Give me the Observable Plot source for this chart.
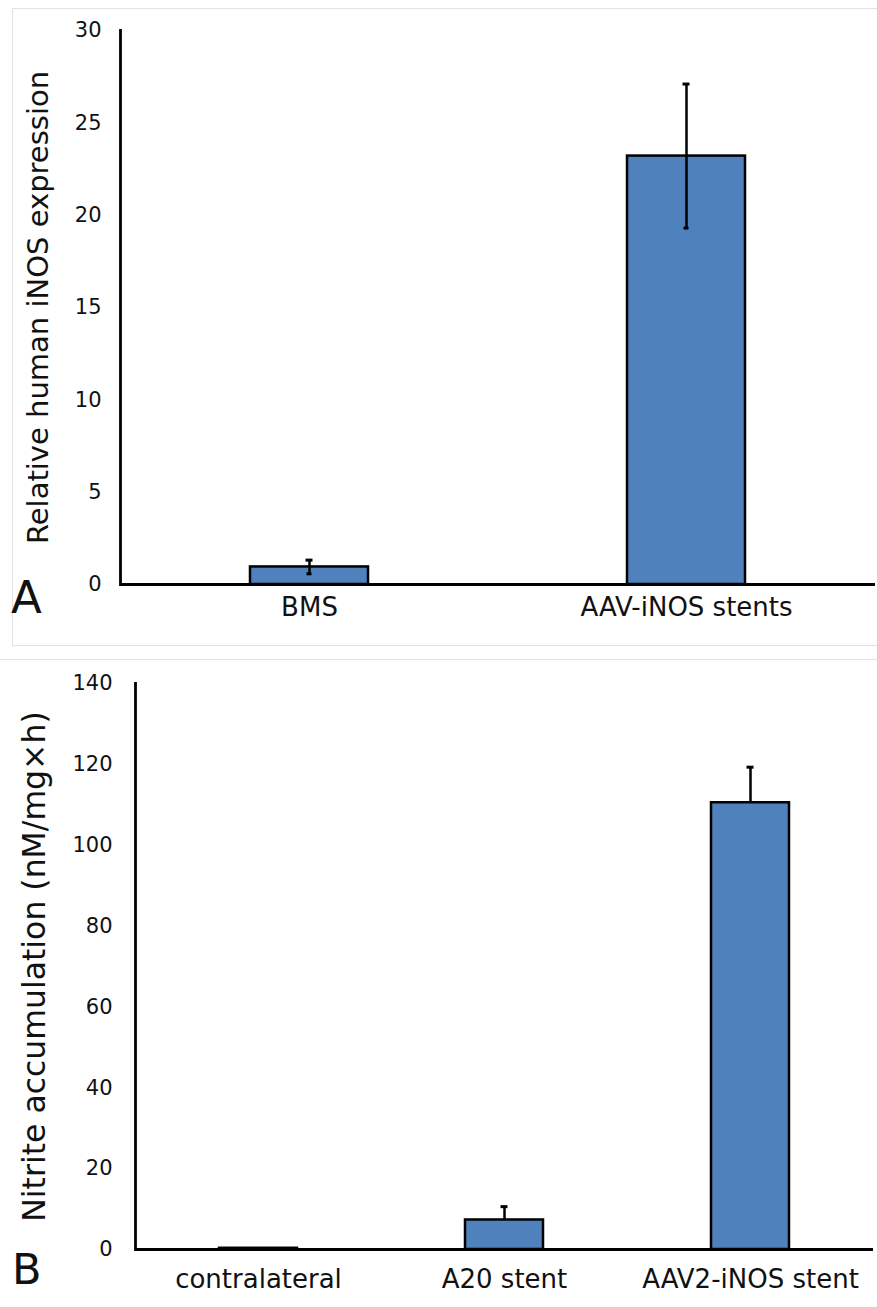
<!DOCTYPE html>
<html>
<head>
<meta charset="utf-8">
<script src="https://cdn.jsdelivr.net/npm/d3@7"></script>
<script src="https://cdn.jsdelivr.net/npm/@observablehq/plot@0.6"></script>
<style>
  html, body { margin: 0; padding: 0; background: #fff; }
  #wrap { position: relative; width: 877px; height: 1307px; overflow: hidden; font-family: "DejaVu Sans", sans-serif; }
  .panel { position: absolute; }
  #boxA { position: absolute; left: 12px; top: 8px; width: 880px; height: 638px; border: 1.5px solid #e2e2e2; box-sizing: border-box; }
  #boxB { position: absolute; left: -2px; top: 659px; width: 884px; height: 700px; border: 1.5px solid #e2e2e2; box-sizing: border-box; }
  #letters { position: absolute; left: 0; top: 0; pointer-events: none; }
</style>
</head>
<body>
<div id="wrap">
  <div id="boxA"></div>
  <div id="boxB"></div>
  <div id="panelA" class="panel" style="left:0;top:0"></div>
  <div id="panelB" class="panel" style="left:0;top:650px"></div>
  <svg id="letters" width="877" height="1307">
    <text x="11" y="613" font-family="DejaVu Sans" font-size="45" fill="#111">A</text>
    <text x="12" y="1284" font-family="DejaVu Sans" font-size="43" fill="#111">B</text>
  </svg>
</div>
<script>
// ---- Panel A data ----
const catsA = ["BMS", "AAV-iNOS stents"];
const valsA = [0.95, 23.2];
const errsA = [0.37, 3.9];
const ticksA = [0, 5, 10, 15, 20, 25, 30];
const yLabelA = "Relative human iNOS expression";

// ---- Panel B data ----
const catsB = ["contralateral", "A20 stent", "AAV2-iNOS stent"];
const valsB = [0.3, 7.3, 110.5];
const errsB = [0, 3.3, 8.8];
const ticksB = [0, 20, 40, 60, 80, 100, 120, 140];
const yLabelB = "Nitrite accumulation (nM/mg\u00d7h)";

const dataA = catsA.map((c, i) => ({cat: c, value: valsA[i], err: errsA[i]}));
const dataB = catsB.map((c, i) => ({cat: c, value: valsB[i], err: errsB[i]}));
const errB = dataB.filter(d => d.err > 0);

const barFill = "#4f81bd";
const font = "DejaVu Sans";

const chartA = Plot.plot({
  width: 877, height: 650,
  marginLeft: 120, marginRight: 2, marginTop: 30, marginBottom: 66,
  style: {fontFamily: font, color: "#111", background: "transparent"},
  x: {domain: catsA, paddingInner: 0.687, paddingOuter: 0.344, label: null},
  y: {domain: [0, 30], label: null},
  marks: [
    Plot.barY(dataA, {x: "cat", y: "value", fill: barFill, stroke: "#000", strokeWidth: 2.5}),
    Plot.ruleX(dataA, {x: "cat", y1: d => d.value - d.err, y2: d => d.value + d.err, stroke: "#000", strokeWidth: 2.5}),
    Plot.tickY(dataA, {x: "cat", y: d => d.value + d.err, insetLeft: 55.5, insetRight: 55.5, stroke: "#000", strokeWidth: 3}),
    Plot.tickY(dataA, {x: "cat", y: d => d.value - d.err, insetLeft: 56.5, insetRight: 56.5, stroke: "#000", strokeWidth: 3}),
    Plot.ruleY([0], {stroke: "#000", strokeWidth: 2.8}),
    Plot.frame({anchor: "left", stroke: "#000", strokeWidth: 2.8}),
    Plot.axisY({ticks: ticksA, tickSize: 0, tickPadding: 19, fontSize: 21, label: null}),
    Plot.axisX({tickSize: 0, tickPadding: 13, fontSize: 26, label: null}),
    Plot.text([yLabelA], {frameAnchor: "left", textAnchor: "middle", rotate: -90, dx: -82, fontSize: 29, fill: "#111"})
  ]
});
document.getElementById("panelA").appendChild(chartA);

const chartB = Plot.plot({
  width: 877, height: 657,
  marginLeft: 135, marginRight: 4, marginTop: 33, marginBottom: 58,
  style: {fontFamily: font, color: "#111", background: "transparent"},
  x: {domain: catsB, paddingInner: 0.683, paddingOuter: 0.341, label: null},
  y: {domain: [0, 140], label: null},
  marks: [
    Plot.ruleX(errB, {x: "cat", y1: d => d.value - d.err, y2: d => d.value + d.err, stroke: "#000", strokeWidth: 2.5}),
    Plot.tickY(errB, {x: "cat", y: d => d.value + d.err, insetLeft: 35.5, insetRight: 35.5, stroke: "#000", strokeWidth: 3}),
    Plot.barY(dataB, {x: "cat", y: "value", fill: barFill, stroke: "#000", strokeWidth: 2.5}),
    Plot.ruleY([0], {stroke: "#000", strokeWidth: 2.8}),
    Plot.frame({anchor: "left", stroke: "#000", strokeWidth: 2.8}),
    Plot.axisY({ticks: ticksB, tickSize: 0, tickPadding: 23, fontSize: 21, label: null}),
    Plot.axisX({tickSize: 0, tickPadding: 20, fontSize: 26, label: null}),
    Plot.text([yLabelB], {frameAnchor: "left", textAnchor: "middle", rotate: -90, dx: -101, fontSize: 31.5, fill: "#111"})
  ]
});
document.getElementById("panelB").appendChild(chartB);
</script>
</body>
</html>
